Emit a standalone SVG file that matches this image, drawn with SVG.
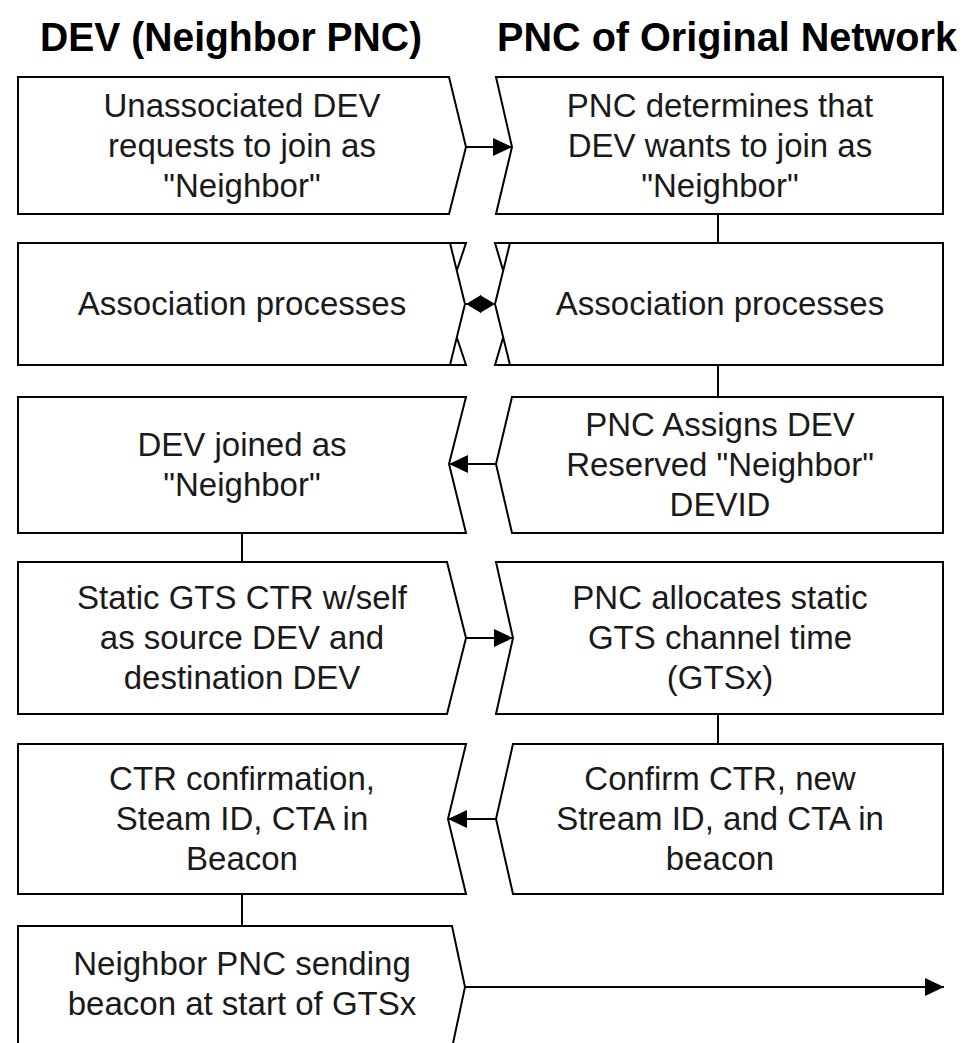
<svg xmlns="http://www.w3.org/2000/svg" width="967" height="1043" viewBox="0 0 967 1043">
<style>
.box{fill:#fff;stroke:#000;stroke-width:2;stroke-linejoin:miter}
.ln{fill:none;stroke:#000;stroke-width:2}
.t{font-family:"Liberation Sans",Arial,sans-serif;font-size:33px;fill:#1a1a1a;text-anchor:middle}
.h{font-family:"Liberation Sans",Arial,sans-serif;font-size:40px;font-weight:bold;fill:#000;text-anchor:middle}
</style>
<defs>
<marker id="arr" viewBox="0 0 19 18" refX="19" refY="9" markerWidth="19" markerHeight="18" orient="auto" markerUnits="userSpaceOnUse"><path d="M0,0 L19,9 L0,18 z" fill="#000"/></marker>
<marker id="arr2" viewBox="0 0 15 18" refX="15" refY="9" markerWidth="15" markerHeight="18" orient="auto-start-reverse" markerUnits="userSpaceOnUse"><path d="M0,0 L15,9 L0,18 z" fill="#000"/></marker>
</defs>
<rect width="967" height="1043" fill="#fff"/>
<g id="headings">
<text class="h" x="231" y="51" textLength="382" lengthAdjust="spacingAndGlyphs">DEV (Neighbor PNC)</text>
<text class="h" x="727" y="51" textLength="460" lengthAdjust="spacingAndGlyphs">PNC of Original Network</text>
</g>
<g id="n1L"><polygon class="box" points="18,77 449,77 466,147 449,214 18,214"/>
<text class="t" x="242" y="117">Unassociated DEV</text><text class="t" x="242" y="157">requests to join as</text><text class="t" x="242" y="197">"Neighbor"</text></g>
<g id="n1R"><polygon class="box" points="496,77 943,77 943,214 496,214 512,147"/>
<text class="t" x="720" y="117">PNC determines that</text><text class="t" x="720" y="157">DEV wants to join as</text><text class="t" x="720" y="197">"Neighbor"</text></g>
<g id="n2L"><polygon class="box" points="18,243 450,243 465,304 450,365 18,365"/>
<polyline class="ln" points="450,243 466,243 457,270"/><polyline class="ln" points="450,365 466,365 457,338"/>
<text class="t" x="242" y="315">Association processes</text></g>
<g id="n2R"><polygon class="box" points="510,243 943,243 943,365 510,365 495,304"/>
<polyline class="ln" points="510,243 495,243 503,270"/><polyline class="ln" points="510,365 495,365 503,338"/>
<text class="t" x="720" y="315">Association processes</text></g>
<g id="n3L"><polygon class="box" points="18,397 466,397 449,464 466,533 18,533"/>
<text class="t" x="242" y="456">DEV joined as</text><text class="t" x="242" y="496">"Neighbor"</text></g>
<g id="n3R"><polygon class="box" points="512,397 943,397 943,533 512,533 496,464"/>
<text class="t" x="720" y="436">PNC Assigns DEV</text><text class="t" x="720" y="476">Reserved "Neighbor"</text><text class="t" x="720" y="516">DEVID</text></g>
<g id="n4L"><polygon class="box" points="18,562 447,562 466,638 447,714 18,714"/>
<text class="t" x="242" y="609">Static GTS CTR w/self</text><text class="t" x="242" y="649">as source DEV and</text><text class="t" x="242" y="689">destination DEV</text></g>
<g id="n4R"><polygon class="box" points="496,562 943,562 943,714 496,714 513,638"/>
<text class="t" x="720" y="609">PNC allocates static</text><text class="t" x="720" y="649">GTS channel time</text><text class="t" x="720" y="689">(GTSx)</text></g>
<g id="n5L"><polygon class="box" points="18,744 466,744 448,819 466,894 18,894"/>
<text class="t" x="242" y="790">CTR confirmation,</text><text class="t" x="242" y="830">Steam ID, CTA in</text><text class="t" x="242" y="870">Beacon</text></g>
<g id="n5R"><polygon class="box" points="513,744 943,744 943,894 513,894 496,819"/>
<text class="t" x="720" y="790">Confirm CTR, new</text><text class="t" x="720" y="830">Stream ID, and CTA in</text><text class="t" x="720" y="870">beacon</text></g>
<g id="n6L"><polygon class="box" points="18,926 452,926 465,987 452,1048 18,1048"/>
<text class="t" x="242" y="975">Neighbor PNC sending</text><text class="t" x="242" y="1015">beacon at start of GTSx</text></g>
<g id="connectors">
<line class="ln" x1="466" y1="147" x2="512" y2="147" marker-end="url(#arr)"/>
<line class="ln" x1="466" y1="304" x2="495" y2="304" marker-start="url(#arr2)" marker-end="url(#arr2)"/>
<line class="ln" x1="496" y1="464" x2="449" y2="464" marker-end="url(#arr)"/>
<line class="ln" x1="466" y1="638" x2="513" y2="638" marker-end="url(#arr)"/>
<line class="ln" x1="496" y1="819" x2="448" y2="819" marker-end="url(#arr)"/>
<line class="ln" x1="465" y1="987" x2="944" y2="987" marker-end="url(#arr)"/>
<line class="ln" x1="718" y1="214" x2="718" y2="243"/>
<line class="ln" x1="718" y1="365" x2="718" y2="397"/>
<line class="ln" x1="718" y1="714" x2="718" y2="744"/>
<line class="ln" x1="242" y1="533" x2="242" y2="562"/>
<line class="ln" x1="242" y1="894" x2="242" y2="926"/>
</g>
</svg>
